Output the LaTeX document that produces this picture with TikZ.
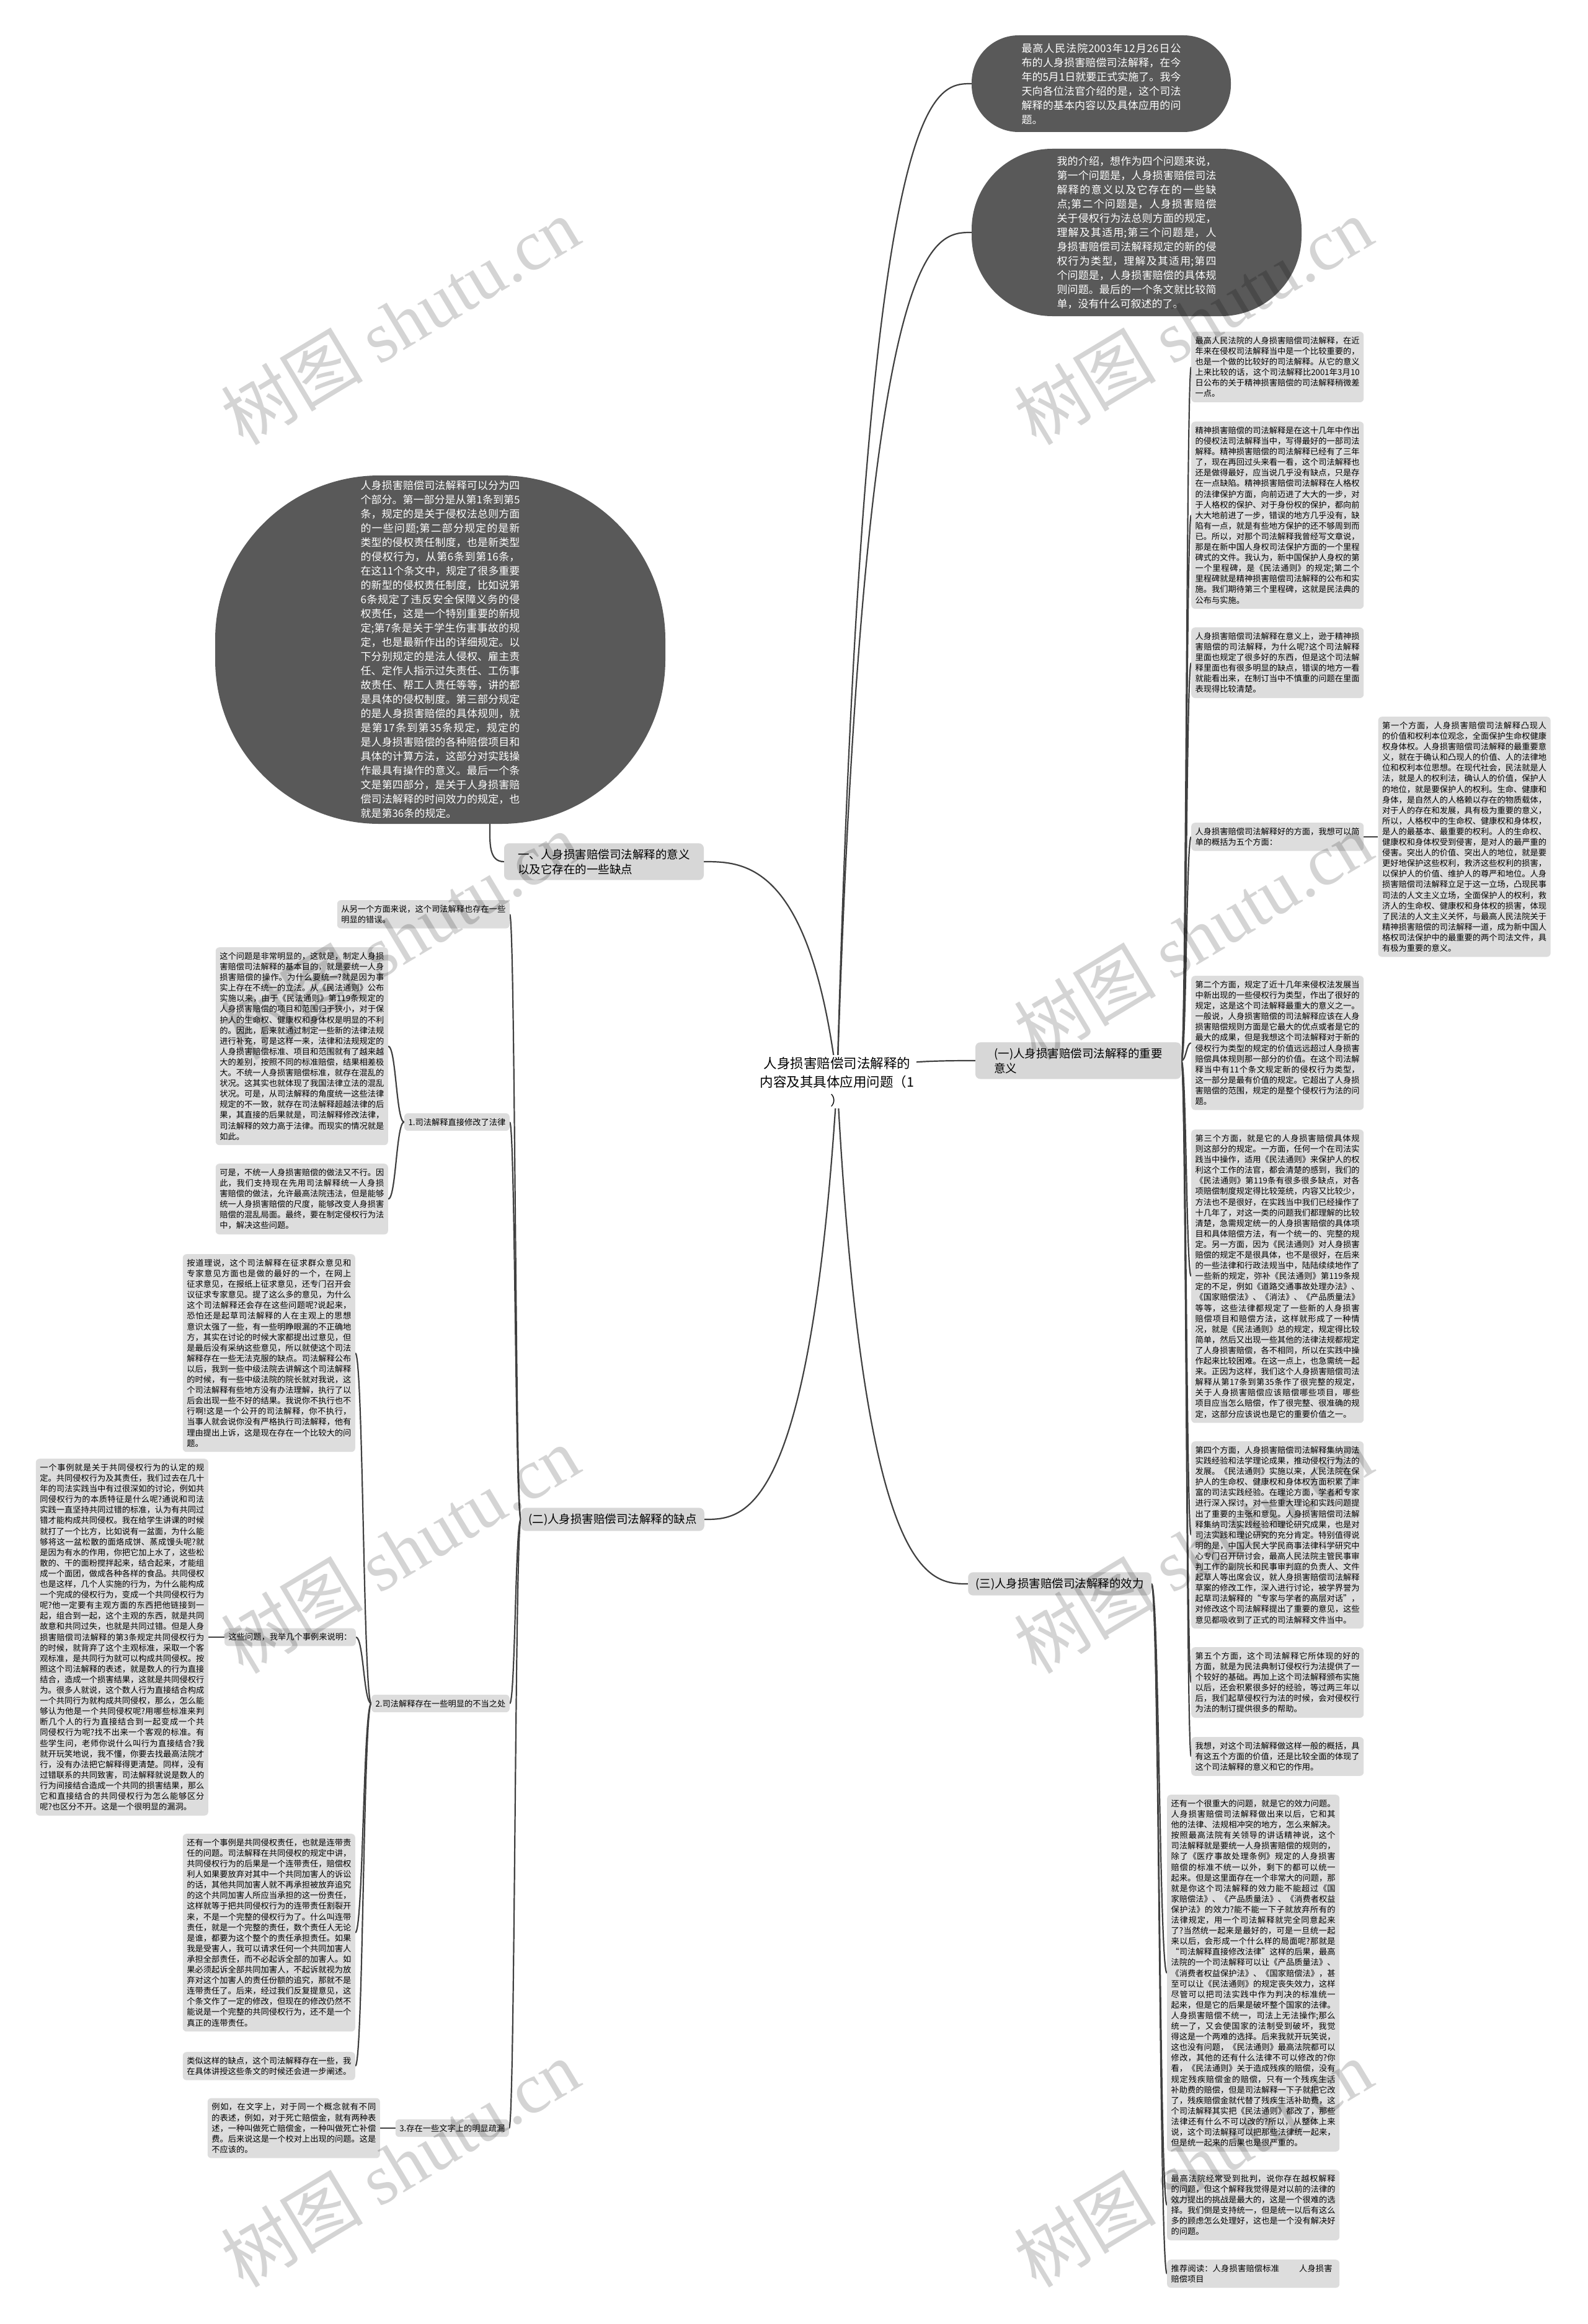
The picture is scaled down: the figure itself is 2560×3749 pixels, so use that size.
\documentclass[tikz,border=0pt]{standalone}
\usepackage{fontspec}
\newfontfamily\cjk{Noto Sans CJK SC}
\newfontfamily\wmserif{Liberation Serif}
\XeTeXlinebreaklocale "zh"
\XeTeXlinebreakskip=0pt plus 1pt
\usetikzlibrary{calc}
\pgfdeclarelayer{bg}
\pgfdeclarelayer{fg}
\pgfsetlayers{bg,main,fg}
\definecolor{darkfill}{RGB}{89,89,89}
\definecolor{leaffill}{RGB}{221,221,221}
\definecolor{branchfill}{RGB}{215,215,215}
\definecolor{conncol}{RGB}{64,64,64}
\tikzset{
  leaf/.style={fill=leaffill, rounded corners=6pt, text width=265pt, align=justify,
    inner xsep=6.5pt, inner ysep=8pt, anchor=north west,
    font=\cjk\fontsize{13.25pt}{17.1pt}\selectfont},
  lab/.style={fill=leaffill, rounded corners=6pt, align=left, inner xsep=6.5pt, inner ysep=8pt,
    font=\cjk\fontsize{13.25pt}{17.1pt}\selectfont},
  darknode/.style={fill=darkfill, text=white, text width=257pt, align=justify,
    font=\cjk\fontsize{17pt}{23pt}\selectfont},
  branch/.style={fill=branchfill, rounded corners=8pt, align=left, inner xsep=12pt, inner ysep=9pt,
    font=\cjk\fontsize{18.5pt}{24pt}\selectfont},
  central/.style={fill=white, align=center, font=\cjk\fontsize{21.5pt}{30pt}\selectfont},
  conn/.style={draw=conncol, line width=2.2pt},
  wm/.style={text=black, opacity=0.17, rotate=31, font=\cjk\fontsize{115pt}{115pt}\selectfont}
}
\newcommand\sconn[2]{\draw[conn] let \p1=(#1), \p2=(#2) in (\p1) .. controls ({(\x1+\x2)/2},\y1) and ({(\x1+\x2)/2},\y2) .. (\p2);}
\newcommand\ctrconn[2]{\draw[conn] let \p1=(#1), \p2=(#2) in (\p1) .. controls ({\x1+0.2*(\x2-\x1)},\y2) and ({\x2-0.3*(\x2-\x1)},\y2) .. (\p2);}
\begin{document}
\begin{tikzpicture}[x=1pt,y=-1pt]
\useasboundingbox (0,0) rectangle (2560,3749);
\begin{pgfonlayer}{bg}
\fill[white] (0,0) rectangle (2560,3749);
\end{pgfonlayer}

% central and main branches
\node[central] (C) at (1350,1745) {人身损害赔偿司法解释的\\内容及其具体应用问题（1\\）};

\node[darknode, minimum width=418pt, minimum height=156pt, rounded corners=76pt] (E1) at (1776,135) {最高人民法院2003年12月26日公布的人身损害赔偿司法解释，在今年的5月1日就要正式实施了。我今天向各位法官介绍的是，这个司法解释的基本内容以及具体应用的问题。};

\node[darknode, minimum width=532pt, minimum height=270pt, rounded corners=130pt] (E2) at (1833,375) {我的介绍，想作为四个问题来说，第一个问题是，人身损害赔偿司法解释的意义以及它存在的一些缺点;第二个问题是，人身损害赔偿关于侵权行为法总则方面的规定，理解及其适用;第三个问题是，人身损害赔偿司法解释规定的新的侵权行为类型，理解及其适用;第四个问题是，人身损害赔偿的具体规则问题。最后的一个条文就比较简单，没有什么可叙述的了。};

\node[darknode, minimum width=726pt, minimum height=562pt, rounded corners=265pt] (E3) at (710,1048) {人身损害赔偿司法解释可以分为四个部分。第一部分是从第1条到第5条，规定的是关于侵权法总则方面的一些问题;第二部分规定的是新类型的侵权责任制度，也是新类型的侵权行为，从第6条到第16条，在这11个条文中，规定了很多重要的新型的侵权责任制度，比如说第6条规定了违反安全保障义务的侵权责任，这是一个特别重要的新规定;第7条是关于学生伤害事故的规定，也是最新作出的详细规定。以下分别规定的是法人侵权、雇主责任、定作人指示过失责任、工伤事故责任、帮工人责任等等，讲的都是具体的侵权制度。第三部分规定的是人身损害赔偿的具体规则，就是第17条到第35条规定，规定的是人身损害赔偿的各种赔偿项目和具体的计算方法，这部分对实践操作最具有操作的意义。最后一个条文是第四部分，是关于人身损害赔偿司法解释的时间效力的规定，也就是第36条的规定。};

\node[branch, minimum width=322pt, minimum height=55pt] (L1) at (974,1390) {一、人身损害赔偿司法解释的意义\\以及它存在的一些缺点};
\node[branch, minimum width=332pt, minimum height=57pt] (RB) at (1739,1711) {(一)人身损害赔偿司法解释的重要\\意义};
\node[branch] (L2) at (988,2451) {(二)人身损害赔偿司法解释的缺点};
\node[branch] (TB) at (1709,2555) {(三)人身损害赔偿司法解释的效力};

% right column
\node[leaf] (R1) at (1921,535) {最高人民法院的人身损害赔偿司法解释，在近年来在侵权司法解释当中是一个比较重要的，也是一个做的比较好的司法解释。从它的意义上来比较的话，这个司法解释比2001年3月10日公布的关于精神损害赔偿的司法解释稍微差一点。};
\node[leaf] (R2) at (1921,680) {精神损害赔偿的司法解释是在这十几年中作出的侵权法司法解释当中，写得最好的一部司法解释。精神损害赔偿的司法解释已经有了三年了，现在再回过头来看一看，这个司法解释也还是做得最好，应当说几乎没有缺点，只是存在一点缺陷。精神损害赔偿司法解释在人格权的法律保护方面，向前迈进了大大的一步，对于人格权的保护、对于身份权的保护，都向前大大地前进了一步，错误的地方几乎没有，缺陷有一点，就是有些地方保护的还不够周到而已。所以，对那个司法解释我曾经写文章说，那是在新中国人身权司法保护方面的一个里程碑式的文件。我认为，新中国保护人身权的第一个里程碑，是《民法通则》的规定;第二个里程碑就是精神损害赔偿司法解释的公布和实施。我们期待第三个里程碑，这就是民法典的公布与实施。};
\node[leaf] (R3) at (1921,1012) {人身损害赔偿司法解释在意义上，逊于精神损害赔偿的司法解释，为什么呢?这个司法解释里面也规定了很多好的东西，但是这个司法解释里面也有很多明显的缺点，错误的地方一看就能看出来，在制订当中不慎重的问题在里面表现得比较清楚。};
\node[leaf] (R4) at (1921,1327) {人身损害赔偿司法解释好的方面，我想可以简单的概括为五个方面：};
\node[leaf, anchor=west] (F) at ($(R4.east)+(23,0)$) {第一个方面，人身损害赔偿司法解释凸现人的价值和权利本位观念，全面保护生命权健康权身体权。人身损害赔偿司法解释的最重要意义，就在于确认和凸现人的价值、人的法律地位和权利本位思想。在现代社会，民法就是人法，就是人的权利法，确认人的价值，保护人的地位，就是要保护人的权利。生命、健康和身体，是自然人的人格赖以存在的物质载体，对于人的存在和发展，具有极为重要的意义，所以，人格权中的生命权、健康权和身体权，是人的最基本、最重要的权利。人的生命权、健康权和身体权受到侵害，是对人的最严重的侵害。突出人的价值、突出人的地位，就是要更好地保护这些权利，救济这些权利的损害，以保护人的价值、维护人的尊严和地位。人身损害赔偿司法解释立足于这一立场，凸现民事司法的人文主义立场，全面保护人的权利，救济人的生命权、健康权和身体权的损害，体现了民法的人文主义关怀，与最高人民法院关于精神损害赔偿的司法解释一道，成为新中国人格权司法保护中的最重要的两个司法文件，具有极为重要的意义。};
\node[leaf] (R5) at (1921,1574) {第二个方面，规定了近十几年来侵权法发展当中新出现的一些侵权行为类型，作出了很好的规定，这是这个司法解释最重大的意义之一。一般说，人身损害赔偿的司法解释应该在人身损害赔偿规则方面是它最大的优点或者是它的最大的成果，但是我想这个司法解释对于新的侵权行为类型的规定的价值远远超过人身损害赔偿具体规则那一部分的价值。在这个司法解释当中有11个条文规定新的侵权行为类型，这一部分是最有价值的规定。它超出了人身损害赔偿的范围，规定的是整个侵权行为法的问题。};
\node[leaf] (R6) at (1921,1822) {第三个方面，就是它的人身损害赔偿具体规则这部分的规定。一方面，任何一个在司法实践当中操作，适用《民法通则》来保护人的权利这个工作的法官，都会清楚的感到，我们的《民法通则》第119条有很多很多缺点，对各项赔偿制度规定得比较笼统，内容又比较少，方法也不是很好，在实践当中我们已经操作了十几年了，对这一类的问题我们都理解的比较清楚，急需规定统一的人身损害赔偿的具体项目和具体赔偿方法，有一个统一的、完整的规定。另一方面，因为《民法通则》对人身损害赔偿的规定不是很具体，也不是很好，在后来的一些法律和行政法规当中，陆陆续续地作了一些新的规定，弥补《民法通则》第119条规定的不足，例如《道路交通事故处理办法》、《国家赔偿法》、《消法》、《产品质量法》等等，这些法律都规定了一些新的人身损害赔偿项目和赔偿方法，这样就形成了一种情况，就是《民法通则》总的规定，规定得比较简单，然后又出现一些其他的法律法规都规定了人身损害赔偿，各不相同，所以在实践中操作起来比较困难。在这一点上，也急需统一起来。正因为这样，我们这个人身损害赔偿司法解释从第17条到第35条作了很完整的规定，关于人身损害赔偿应该赔偿哪些项目，哪些项目应当怎么赔偿，作了很完整、很准确的规定，这部分应该说也是它的重要价值之一。};
\node[leaf] (R7) at (1921,2325) {第四个方面，人身损害赔偿司法解释集纳司法实践经验和法学理论成果，推动侵权行为法的发展。《民法通则》实施以来，人民法院在保护人的生命权、健康权和身体权方面积累了丰富的司法实践经验。在理论方面，学者和专家进行深入探讨，对一些重大理论和实践问题提出了重要的主张和意见。人身损害赔偿司法解释集纳司法实践经验和理论研究成果，也是对司法实践和理论研究的充分肯定。特别值得说明的是，中国人民大学民商事法律科学研究中心专门召开研讨会，最高人民法院主管民事审判工作的副院长和民事审判庭的负责人、文件起草人等出席会议，就人身损害赔偿司法解释草案的修改工作，深入进行讨论，被学界誉为起草司法解释的“专家与学者的高层对话”，对修改这个司法解释提出了重要的意见，这些意见都吸收到了正式的司法解释文件当中。};
\node[leaf] (R8) at (1921,2657) {第五个方面，这个司法解释它所体现的好的方面，就是为民法典制订侵权行为法提供了一个较好的基础。再加上这个司法解释颁布实施以后，还会积累很多好的经验，等过两三年以后，我们起草侵权行为法的时候，会对侵权行为法的制订提供很多的帮助。};
\node[leaf] (R9) at (1921,2802) {我想，对这个司法解释做这样一般的概括，具有这五个方面的价值，还是比较全面的体现了这个司法解释的意义和它的作用。};

% (三) children
\node[leaf] (T1) at (1882,2895) {还有一个很重大的问题，就是它的效力问题。人身损害赔偿司法解释做出来以后，它和其他的法律、法规相冲突的地方，怎么来解决。按照最高法院有关领导的讲话精神说，这个司法解释就是要统一人身损害赔偿的规则的，除了《医疗事故处理条例》规定的人身损害赔偿的标准不统一以外，剩下的都可以统一起来。但是这里面存在一个非常大的问题，那就是你这个司法解释的效力能不能超过《国家赔偿法》、《产品质量法》、《消费者权益保护法》的效力?能不能一下子就放弃所有的法律规定，用一个司法解释就完全同意起来了?当然统一起来是最好的，可是一旦统一起来以后，会形成一个什么样的局面呢?那就是“司法解释直接修改法律”这样的后果，最高法院的一个司法解释可以让《产品质量法》、《消费者权益保护法》、《国家赔偿法》，甚至可以让《民法通则》的规定丧失效力，这样尽管可以把司法实践中作为判决的标准统一起来，但是它的后果是破坏整个国家的法律。人身损害赔偿不统一，司法上无法操作;那么统一了，又会使国家的法制受到破坏，我觉得这是一个两难的选择。后来我就开玩笑说，这也没有问题，《民法通则》最高法院都可以修改，其他的还有什么法律不可以修改的?你看，《民法通则》关于造成残疾的赔偿，没有规定残疾赔偿金的赔偿，只有一个残疾生活补助费的赔偿，但是司法解释一下子就把它改了，残疾赔偿金就代替了残疾生活补助费，这个司法解释其实把《民法通则》都改了，那些法律还有什么不可以改的?所以，从整体上来说，这个司法解释可以把那些法律统一起来，但是统一起来的后果也是很严重的。};
\node[leaf] (T2) at (1882,3500) {最高法院经常受到批判，说你存在越权解释的问题，但这个解释我觉得是对以前的法律的效力提出的挑战是最大的，这是一个很难的选择。我们倒是支持统一，但是统一以后有这么多的顾虑怎么处理好，这也是一个没有解决好的问题。};
\node[leaf, align=left] (T3) at (1882,3645) {推荐阅读：人身损害赔偿标准\hbox to 32pt{}人身损害赔偿项目};

% left side
\node[leaf, anchor=north east] (A) at (822,1452) {从另一个方面来说，这个司法解释也存在一些明显的错误。};
\node[lab, anchor=east] (B1) at (822,1810) {1.司法解释直接修改了法律};
\node[leaf, anchor=north east] (B1a) at (626,1528) {这个问题是非常明显的，这就是，制定人身损害赔偿司法解释的基本目的，就是要统一人身损害赔偿的操作。为什么要统一?就是因为事实上存在不统一的立法。从《民法通则》公布实施以来，由于《民法通则》第119条规定的人身损害赔偿的项目和范围归于狭小，对于保护人的生命权、健康权和身体权是明显的不利的。因此，后来就通过制定一些新的法律法规进行补充，可是这样一来，法律和法规规定的人身损害赔偿标准、项目和范围就有了越来越大的差别，按照不同的标准赔偿，结果相差极大。不统一人身损害赔偿标准，就存在混乱的状况。这其实也就体现了我国法律立法的混乱状况。可是，从司法解释的角度统一这些法律规定的不一致，就存在司法解释超越法律的后果，其直接的后果就是，司法解释修改法律，司法解释的效力高于法律。而现实的情况就是如此。};
\node[leaf, anchor=north east] (B1b) at (626,1877) {可是，不统一人身损害赔偿的做法又不行。因此，我们支持现在先用司法解释统一人身损害赔偿的做法，允许最高法院违法，但是能够统一人身损害赔偿的尺度，能够改变人身损害赔偿的混乱局面。最终，要在制定侵权行为法中，解决这些问题。};
\node[lab, anchor=east] (B2) at (822,2748) {2.司法解释存在一些明显的不当之处};
\node[leaf, anchor=north east] (B2a) at (573,2023) {按道理说，这个司法解释在征求群众意见和专家意见方面也是做的最好的一个，在网上征求意见，在报纸上征求意见，还专门召开会议征求专家意见。提了这么多的意见，为什么这个司法解释还会存在这些问题呢?说起来，恐怕还是起草司法解释的人在主观上的思想意识太强了一些，有一些明睁眼漏的不正确地方，其实在讨论的时候大家都提出过意见，但是最后没有采纳这些意见，所以就使这个司法解释存在一些无法克服的缺点。司法解释公布以后，我到一些中级法院去讲解这个司法解释的时候，有一些中级法院的院长就对我说，这个司法解释有些地方没有办法理解，执行了以后会出现一些不好的结果。我说你不执行也不行啊!这是一个公开的司法解释，你不执行，当事人就会说你没有严格执行司法解释，他有理由提出上诉，这是现在存在一个比较大的问题。};
\node[lab, anchor=east] (EXL) at (574,2641) {这些问题，我举几个事例来说明：};
\node[leaf, anchor=east] (EX1) at (336,2641) {一个事例就是关于共同侵权行为的认定的规定。共同侵权行为及其责任，我们过去在几十年的司法实践当中有过很深如的讨论，例如共同侵权行为的本质特征是什么呢?通说和司法实践一直坚持共同过错的标准，认为有共同过错才能构成共同侵权。我在给学生讲课的时候就打了一个比方，比如说有一盆面，为什么能够将这一盆松散的面烙成饼、蒸成馒头呢?就是因为有水的作用，你把它加上水了，这些松散的、干的面粉搅拌起来，结合起来，才能组成一个面团，做成各种各样的食品。共同侵权也是这样，几个人实施的行为，为什么能构成一个完成的侵权行为，变成一个共同侵权行为呢?他一定要有主观方面的东西把他链接到一起，组合到一起，这个主观的东西，就是共同故意和共同过失，也就是共同过错。但是人身损害赔偿司法解释的第3条规定共同侵权行为的时候，就背弃了这个主观标准，采取一个客观标准，是共同行为就可以构成共同侵权。按照这个司法解释的表述，就是数人的行为直接结合，造成一个损害结果，这就是共同侵权行为。很多人就说，这个数人行为直接结合构成一个共同行为就构成共同侵权，那么，怎么能够认为他是一个共同侵权呢?用哪些标准来判断几个人的行为直接结合到一起变成一个共同侵权行为呢?找不出来一个客观的标准。有些学生问，老师你说什么叫行为直接结合?我就开玩笑地说，我不懂，你要去找最高法院才行，没有办法把它解释得更清楚。同样，没有过错联系的共同致害，司法解释就说是数人的行为间接结合造成一个共同的损害结果，那么它和直接结合的共同侵权行为怎么能够区分呢?也区分不开。这是一个很明显的漏洞。};
\node[leaf, anchor=north east] (EX2) at (573,2958) {还有一个事例是共同侵权责任，也就是连带责任的问题。司法解释在共同侵权的规定中讲，共同侵权行为的后果是一个连带责任，赔偿权利人如果要放弃对其中一个共同加害人的诉讼的话，其他共同加害人就不再承担被放弃追究的这个共同加害人所应当承担的这一份责任，这样就等于把共同侵权行为的连带责任割裂开来，不是一个完整的侵权行为了。什么叫连带责任，就是一个完整的责任，数个责任人无论是谁，都要为这个整个的责任承担责任。如果我是受害人，我可以请求任何一个共同加害人承担全部责任，而不必起诉全部的加害人。如果必须起诉全部共同加害人，不起诉就视为放弃对这个加害人的责任份额的追究，那就不是连带责任了。后来，经过我们反复提意见，这个条文作了一定的修改，但现在的修改仍然不能说是一个完整的共同侵权行为，还不是一个真正的连带责任。};
\node[leaf, anchor=north east] (B2b) at (573,3310) {类似这样的缺点，这个司法解释存在一些，我在具体讲授这些条文的时候还会进一步阐述。};
\node[lab, anchor=east] (B3) at (821,3433) {3.存在一些文字上的明显疏漏};
\node[leaf, anchor=east] (B3a) at (613,3433) {例如，在文字上，对于同一个概念就有不同的表述，例如，对于死亡赔偿金，就有两种表述，一种叫做死亡赔偿金，一种叫做死亡补偿费。后来说这是一个校对上出现的问题。这是不应该的。};

% connectors
\begin{pgfonlayer}{bg}
\ctrconn{C.center}{E1.west}
\ctrconn{C.center}{E2.west}
\ctrconn{C.center}{L1.east}
\ctrconn{C.center}{RB.west}
\ctrconn{C.center}{L2.east}
\ctrconn{C.center}{TB.west}
\draw[conn] (L1.west) .. controls +(-25,0) and ($(E3.south)+(80,30)$) .. ($(E3.south)+(80,0)$);
\foreach \nd in {R1,R2,R3,R4,R5,R6,R7,R8,R9}{\sconn{RB.east}{\nd.west}}
\draw[conn] (R4.east) -- (F.west);
\foreach \nd in {T1,T2,T3}{\sconn{TB.east}{\nd.west}}
\foreach \nd in {A,B1,B2,B3}{\sconn{L2.west}{\nd.east}}
\foreach \nd in {B1a,B1b}{\sconn{B1.west}{\nd.east}}
\foreach \nd in {B2a,EXL,EX2,B2b}{\sconn{B2.west}{\nd.east}}
\draw[conn] (EXL.west) -- (EX1.east);
\draw[conn] (B3.west) -- (B3a.east);
\end{pgfonlayer}

% watermarks
\begin{pgfonlayer}{fg}
\foreach \wx in {645,1924}{
  \foreach \wy in {518,1510,2500,3490}{
    \node[wm] at (\wx,\wy) {树图 {\wmserif shutu.cn}};
  }
}
\end{pgfonlayer}
\end{tikzpicture}
\end{document}
